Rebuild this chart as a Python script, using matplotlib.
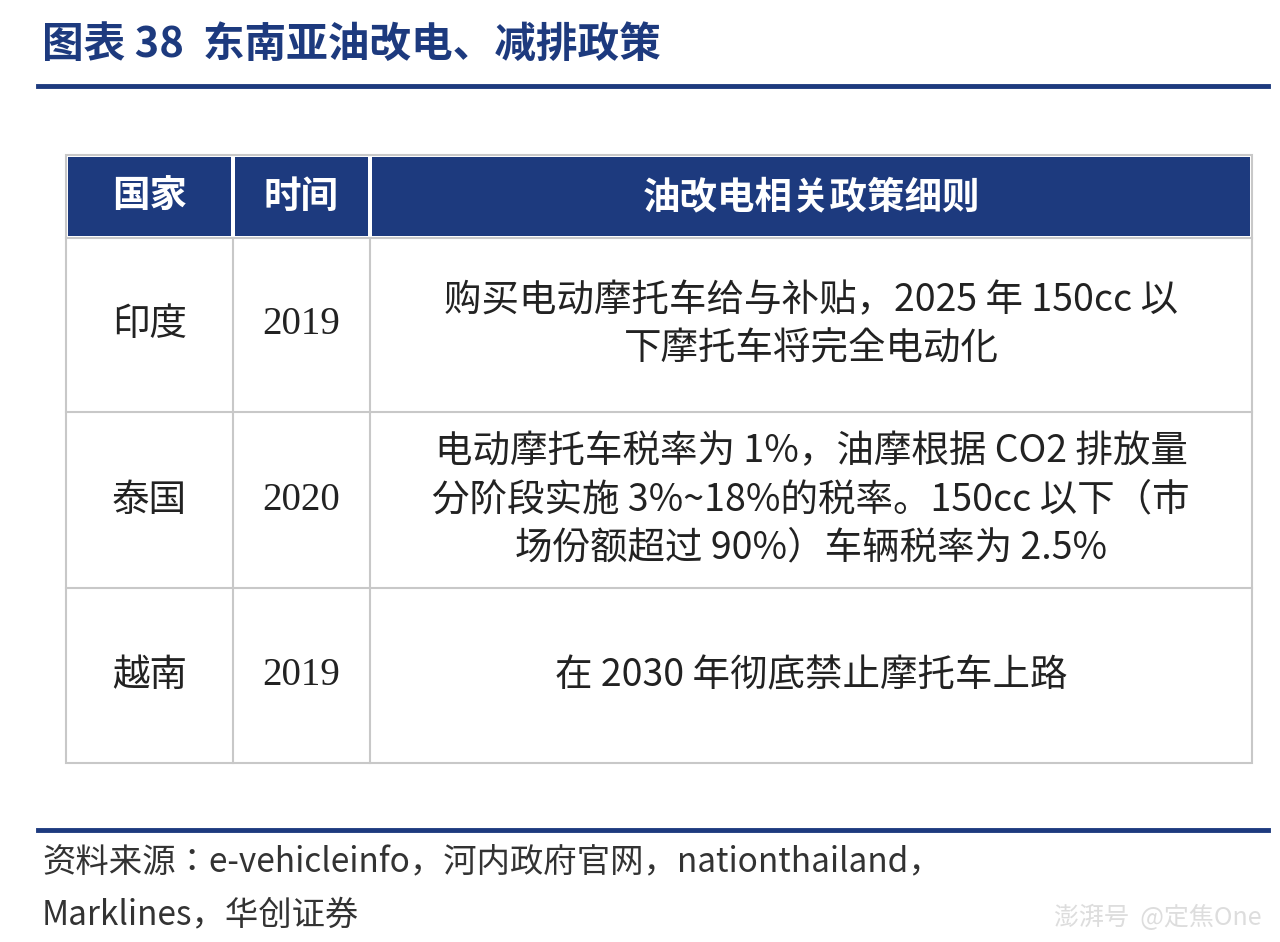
import matplotlib.pyplot as plt
from matplotlib import font_manager
from matplotlib.patches import Rectangle

# pick whatever CJK font is really available
cjk = [f.name for f in font_manager.fontManager.ttflist if "CJK" in f.name]
cjk_family = "Noto Sans CJK SC" if "Noto Sans CJK SC" in cjk else (cjk[0] if cjk else "DejaVu Sans")
plt.rcParams["font.family"] = "sans-serif"
plt.rcParams["font.sans-serif"] = [cjk_family, "DejaVu Sans"]

title = "图表 38  东南亚油改电、减排政策"
headers = ["国家", "时间", "油改电相关政策细则"]
countries = ["印度", "泰国", "越南"]
years = ["2019", "2020", "2019"]
policies = [
    "购买电动摩托车给与补贴，2025 年 150cc 以\n下摩托车将完全电动化",
    "电动摩托车税率为 1%，油摩根据 CO2 排放量\n分阶段实施 3%~18%的税率。150cc 以下（市\n场份额超过 90%）车辆税率为 2.5%",
    "在 2030 年彻底禁止摩托车上路",
]
source_lines = ["资料来源：e-vehicleinfo，河内政府官网，nationthailand，",
                "Marklines，华创证券"]

navy = "#1d3a7e"
grid = "#c8c8c8"
ink = "#222222"

fig = plt.figure(figsize=(12.8, 9.42), dpi=100)
ax = fig.add_axes([0, 0, 1, 1])
ax.set_xlim(0, 1280)
ax.set_ylim(942, 0)
ax.axis("off")

ax.text(42, 45, title, fontsize=30, fontweight="bold", color=navy, va="center", ha="left")
ax.plot([38, 1268], [86, 86], color=navy, lw=3.5)

cols = [66, 233, 370, 1252]
rows = [155, 238, 412, 588, 763]

for i in range(3):
    ax.add_patch(Rectangle((cols[i] + 2, rows[0] + 2), cols[i + 1] - cols[i] - 4,
                           rows[1] - rows[0] - 4, facecolor=navy, edgecolor="none"))
    ax.text((cols[i] + cols[i + 1]) / 2, (rows[0] + rows[1]) / 2, headers[i],
            fontsize=27, fontweight="bold", color="white", ha="center", va="center")

ax.add_patch(Rectangle((cols[0], rows[0]), cols[-1] - cols[0], rows[-1] - rows[0],
                       facecolor="none", edgecolor=grid, lw=1.5))
for y in rows[1:-1]:
    ax.plot([cols[0], cols[-1]], [y, y], color=grid, lw=1.5)
for x in cols[1:-1]:
    ax.plot([x, x], [rows[1], rows[-1]], color=grid, lw=1.5)

for r in range(3):
    cy = (rows[r + 1] + rows[r + 2]) / 2
    ax.text((cols[0] + cols[1]) / 2, cy, countries[r], fontsize=27, ha="center", va="center", color=ink)
    ax.text((cols[1] + cols[2]) / 2, cy, years[r], fontsize=28, ha="center", va="center", color=ink,
            family="Liberation Serif")
    ax.text((cols[2] + cols[3]) / 2, cy, policies[r], fontsize=27, ha="center", va="center",
            color=ink, linespacing=1.3)

ax.plot([38, 1268], [830, 830], color=navy, lw=3.5)
ax.text(42, 862, source_lines[0], fontsize=24, style="italic", color="#333333", va="center")
ax.text(42, 915, source_lines[1], fontsize=24, style="italic", color="#333333", va="center")
ax.text(1262, 918, "澎湃号  @定焦One", fontsize=18, color="#dddddd", ha="right", va="center")

fig.savefig("out.png", dpi=100, facecolor="white")
